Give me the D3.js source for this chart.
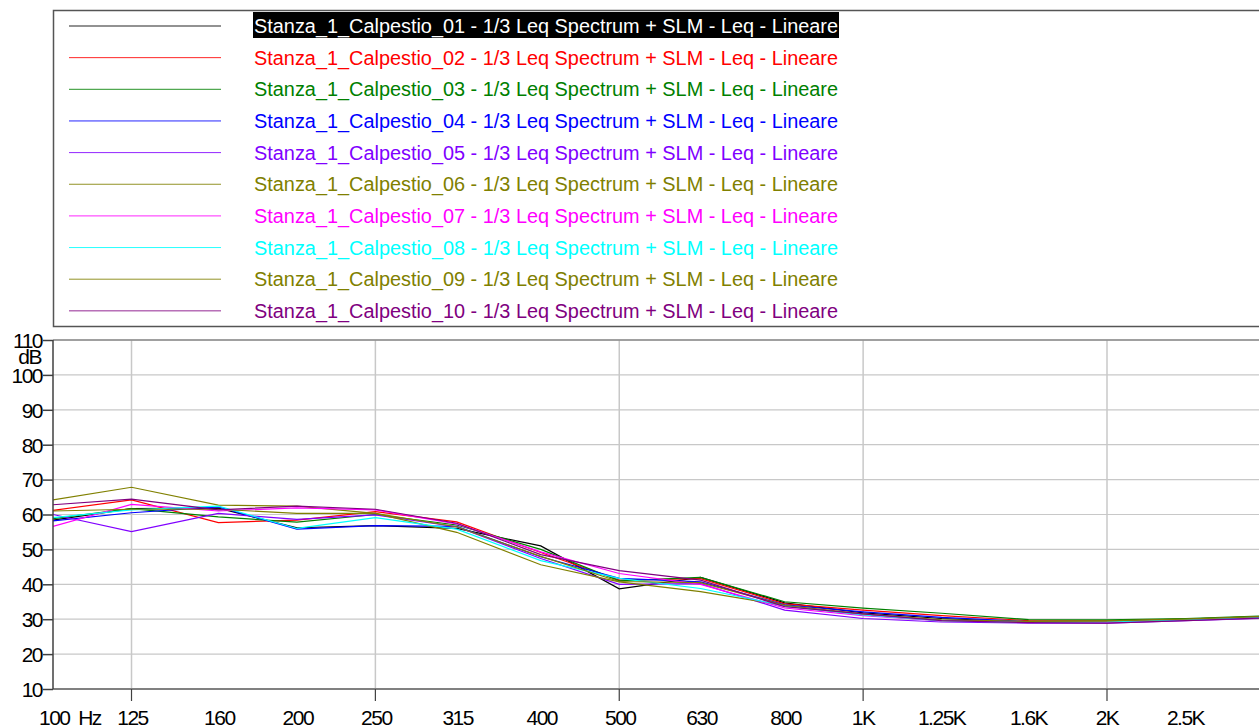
<!DOCTYPE html>
<html><head><meta charset="utf-8">
<script src="https://cdn.jsdelivr.net/npm/d3@7"></script>
<style>body{margin:0;background:#fff;overflow:hidden}svg{display:block;font-family:"Liberation Sans",Arial,sans-serif}</style>
</head><body>
<svg id="c" width="1259" height="728"></svg>
<script>
const freqs = [100,125,160,200,250,315,400,500,630,800,1000,1250,1600,2000,2500,3150];
const tickFreqs = [100,125,160,200,250,315,400,500,630,800,1000,1250,1600,2000,2500];
const tickLabels = ["100  Hz","125","160","200","250","315","400","500","630","800","1K","1.25K","1.6K","2K","2.5K"];
const gridFreqs = [125,250,500,1000,2000];
const yTicks = [10,20,30,40,50,60,70,80,90,100,110];
const seriesNames = [
 "Stanza_1_Calpestio_01 - 1/3 Leq Spectrum + SLM - Leq - Lineare",
 "Stanza_1_Calpestio_02 - 1/3 Leq Spectrum + SLM - Leq - Lineare",
 "Stanza_1_Calpestio_03 - 1/3 Leq Spectrum + SLM - Leq - Lineare",
 "Stanza_1_Calpestio_04 - 1/3 Leq Spectrum + SLM - Leq - Lineare",
 "Stanza_1_Calpestio_05 - 1/3 Leq Spectrum + SLM - Leq - Lineare",
 "Stanza_1_Calpestio_06 - 1/3 Leq Spectrum + SLM - Leq - Lineare",
 "Stanza_1_Calpestio_07 - 1/3 Leq Spectrum + SLM - Leq - Lineare",
 "Stanza_1_Calpestio_08 - 1/3 Leq Spectrum + SLM - Leq - Lineare",
 "Stanza_1_Calpestio_09 - 1/3 Leq Spectrum + SLM - Leq - Lineare",
 "Stanza_1_Calpestio_10 - 1/3 Leq Spectrum + SLM - Leq - Lineare"];
const colors = ["#000000","#ff0000","#008000","#0000ff","#8000ff","#808000","#ff00ff","#00ffff","#808000","#800080"];
const s01 = [58.4,61.7,61.8,56.2,56.8,56.0,51.0,38.7,42.0,34.7,31.8,30.2,29.2,29.2,29.8,30.5];
const s02 = [61.2,64.2,57.7,58.4,60.8,57.9,49.1,41.2,41.6,34.4,32.6,31.0,29.6,29.5,30.0,30.8];
const s03 = [58.8,61.7,59.3,57.8,60.0,57.0,50.0,41.0,42.0,35.0,33.2,31.7,29.9,29.8,30.2,31.0];
const s04 = [58.2,60.5,62.2,55.8,56.8,56.6,47.9,41.7,40.7,34.1,32.1,30.5,29.3,29.2,29.8,30.6];
const s05 = [60.0,55.1,60.3,58.6,59.9,56.5,47.4,40.0,40.2,32.6,30.2,29.2,28.9,28.9,29.6,30.3];
const s06 = [64.2,67.8,62.7,62.4,60.3,54.9,45.6,40.7,37.9,33.9,31.2,29.6,29.2,29.4,29.9,30.6];
const s07 = [56.6,62.9,61.0,61.9,61.3,57.3,49.3,43.1,40.0,33.2,31.0,29.6,29.1,29.1,29.8,30.5];
const s08 = [59.1,61.3,62.4,56.0,59.1,55.8,46.8,41.7,38.8,33.8,31.2,29.6,29.1,29.2,29.8,30.5];
const s09 = [61.0,61.5,61.5,60.3,60.3,56.5,48.0,40.8,40.5,34.0,31.5,29.8,29.4,29.5,30.0,30.8];
const s10 = [62.8,64.4,61.3,62.4,61.5,57.5,48.5,43.9,41.2,33.6,31.5,29.6,29.0,28.9,29.6,30.4];
const seriesValues = [s01,s02,s03,s04,s05,s06,s07,s08,s09,s10];

const svg = d3.select("#c");
const L = 53, T = 340, B = 689;
const x = d3.scaleLog().domain([100, 2000]).range([L, 1107]);
const y = d3.scaleLinear().domain([10, 110]).range([B, T]);

// legend
const lg = svg.append("g");
lg.append("rect").attr("x",53.5).attr("y",10.5).attr("width",1210).attr("height",316)
  .attr("fill","none").attr("stroke","#555").attr("stroke-width",1.5);
seriesNames.forEach((n,i)=>{
  const cy = 26 + i*31.65;
  lg.append("line").attr("x1",69).attr("x2",221).attr("y1",cy).attr("y2",cy)
    .attr("stroke",colors[i]).attr("stroke-width",1).attr("opacity",0.85);
  if(i===0) lg.append("rect").attr("x",253).attr("y",cy-14).attr("width",586).attr("height",26).attr("fill","#000");
  lg.append("text").attr("x",254).attr("y",cy+7).attr("font-size",20)
    .attr("textLength",584).attr("lengthAdjust","spacingAndGlyphs")
    .attr("fill", i===0 ? "#fff" : colors[i]).text(n);
});

// grid
const g = svg.append("g");
g.selectAll(".hg").data(yTicks).join("line").attr("x1",L).attr("x2",1259)
  .attr("y1",d=>y(d)).attr("y2",d=>y(d)).attr("stroke","#c8c8c8").attr("stroke-width",1.2);
g.selectAll(".vg").data(gridFreqs).join("line").attr("x1",d=>x(d)).attr("x2",d=>x(d))
  .attr("y1",T).attr("y2",B).attr("stroke","#c8c8c8").attr("stroke-width",1.5);

// series
const line = d3.line().x((d,i)=>x(freqs[i])).y(d=>y(d));
svg.append("clipPath").attr("id","cp").append("rect").attr("x",L).attr("y",T).attr("width",1259-L).attr("height",B-T);
svg.append("g").attr("clip-path","url(#cp)").selectAll("path").data(seriesValues).join("path")
  .attr("d",line).attr("fill","none").attr("stroke",(d,i)=>colors[i]).attr("stroke-width",1.2);

// axes frame
svg.append("line").attr("x1",L).attr("x2",1259).attr("y1",T).attr("y2",T).attr("stroke","#8a8a8a").attr("stroke-width",1.5);
svg.append("line").attr("x1",L).attr("x2",1259).attr("y1",B).attr("y2",B).attr("stroke","#808080").attr("stroke-width",2);
svg.append("line").attr("x1",L).attr("x2",L).attr("y1",T).attr("y2",B).attr("stroke","#404040").attr("stroke-width",1.5);

// y axis
const yAxis = d3.axisLeft(y).tickValues(yTicks).tickSize(10).tickPadding(1).tickFormat(d3.format("d"));
const ya = svg.append("g").attr("transform",`translate(${L},0)`).call(yAxis);
ya.select(".domain").remove();
ya.selectAll(".tick line").attr("stroke","#404040").attr("stroke-width",1.5);
ya.selectAll(".tick text").attr("font-size",21).attr("fill","#000").attr("letter-spacing",-1.5)
  .attr("font-family","Liberation Sans, Arial, sans-serif").attr("dy","0.35em");
svg.append("text").attr("x",41).attr("y",364).attr("text-anchor","end").attr("font-size",21).attr("letter-spacing",-1.5).text("dB");

// x axis
const xa = svg.append("g").attr("transform",`translate(0,${B})`);
xa.selectAll("line").data(gridFreqs).join("line").attr("x1",d=>x(d)).attr("x2",d=>x(d))
  .attr("y1",0).attr("y2",12).attr("stroke","#404040").attr("stroke-width",1.2);
xa.selectAll("text").data(tickFreqs).join("text")
  .attr("x",(d,i)=> i===0 ? 39 : x(d)+ (d>=1000?0:1))
  .attr("y",36).attr("text-anchor",(d,i)=> i===0 ? "start" : "middle")
  .attr("font-size",21).attr("letter-spacing",-1.5).attr("fill","#000")
  .attr("xml:space","preserve").style("white-space","pre")
  .text((d,i)=>tickLabels[i]);
</script>
</body></html>
